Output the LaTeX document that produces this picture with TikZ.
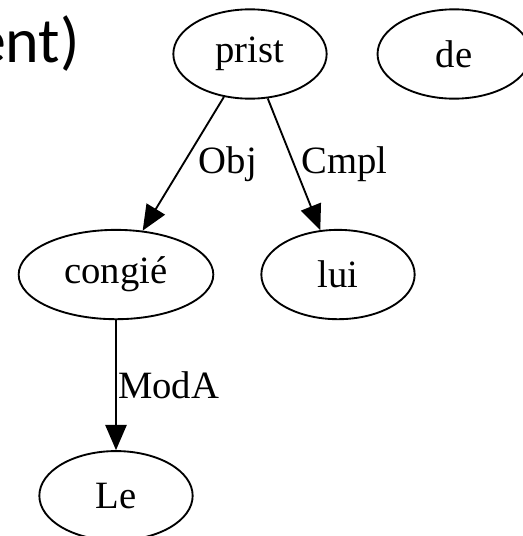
\documentclass[tikz,border=0pt]{standalone}
\usepackage{fontspec}
\setmainfont{Liberation Serif}
\newfontfamily\slidefont{Carlito}
\usetikzlibrary{positioning,shapes.geometric,arrows.meta}

\tikzset{
	word/.style={draw, ellipse, line width=1.4pt, inner sep=0pt,
		minimum width=115pt, minimum height=67pt,
		font=\fontsize{29}{29}\selectfont},
	rel/.style={inner sep=0pt, font=\fontsize{29}{29}\selectfont},
	dep/.style={-{Triangle[length=19pt,width=16pt]}, line width=1.4pt},
}

\begin{document}
\begin{tikzpicture}
	\useasboundingbox (0,0) rectangle (392.25pt,-402pt);
	% Nodes
	% Cut-off end of the slide title
	\node[anchor=base east, inner sep=0pt, font=\slidefont\fontsize{48}{48}\selectfont] (title) at (60pt,-46.5pt) {ent)};
	% Root word
	\node[word] (prist) at (187.5pt,-40.5pt) {prist};
	% Word outside the tree
	\node[word, right=36.75pt of prist] (de) {de};
	% Dependents of prist
	\node[word, below=97pt of prist, xshift=-100.5pt, minimum width=146pt] (congie) {congié};
	\node[word, below=97pt of prist, xshift=66pt] (lui) {lui};
	% Dependent of congie
	\node[word, below=97.5pt of congie] (le) {Le};
	
	% Edges
	\draw[dep] (prist) -- node[rel, right=11pt] {Obj} (congie);
	\draw[dep] (prist) -- node[rel, right=5pt] {Cmpl} (lui);
	\draw[dep] (congie) -- node[rel, right=1pt] {ModA} (le);
\end{tikzpicture}
\end{document}
